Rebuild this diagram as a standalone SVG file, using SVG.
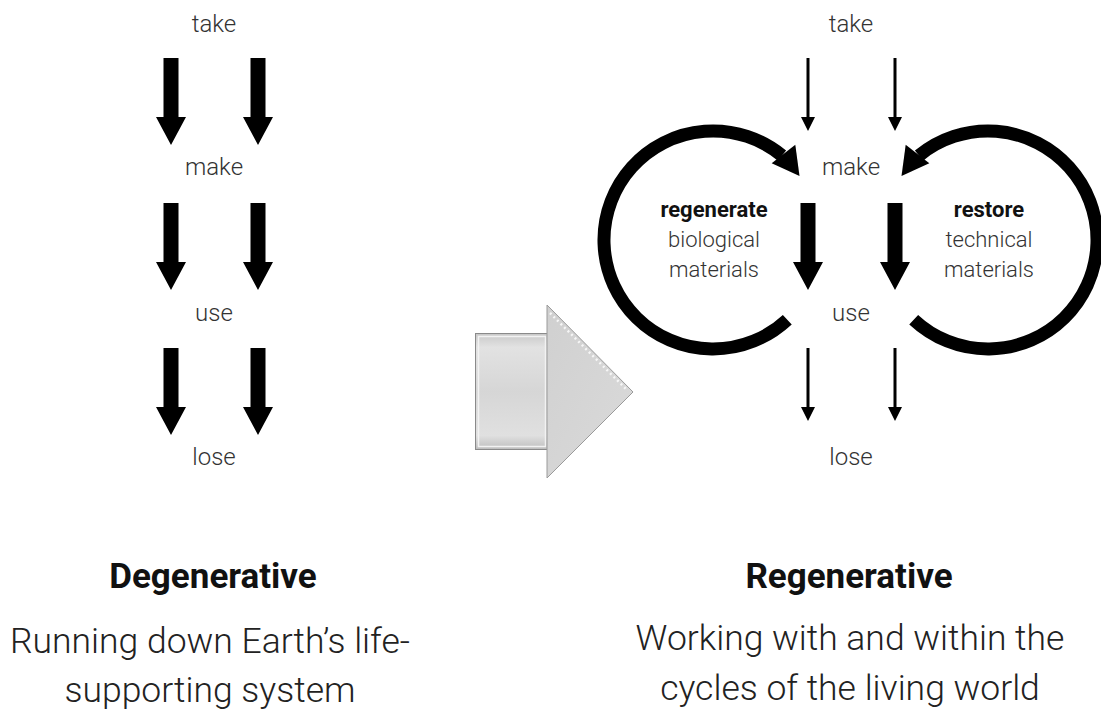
<svg xmlns="http://www.w3.org/2000/svg" width="1101" height="711" viewBox="0 0 1101 711">
<style>
.lbl{font-family:Roboto,"Liberation Sans",sans-serif;font-weight:300;font-size:22px;fill:#333;text-anchor:middle}
.step{font-family:Roboto,"Liberation Sans",sans-serif;font-weight:300;font-size:24px;fill:#333;text-anchor:middle}
.bold{font-family:Roboto,"Liberation Sans",sans-serif;font-weight:700;font-size:22px;fill:#111;text-anchor:middle}
.title{font-family:Roboto,"Liberation Sans",sans-serif;font-weight:700;font-size:35px;fill:#111;text-anchor:middle}
.sub{font-family:Roboto,"Liberation Sans",sans-serif;font-weight:300;font-size:35.5px;fill:#222;text-anchor:middle}
.ring{fill:none;stroke:#000;stroke-width:13}
</style>
<defs>
<path id="big" d="M-7.5,0 H7.5 V59 H15 L0,87 L-15,59 H-7.5 Z" fill="#000"/>
<path id="small" d="M-1.5,0 H1.5 V59 H7 L0,73 L-7,59 H-1.5 Z" fill="#000"/>
<linearGradient id="rg" x1="0" y1="0" x2="0" y2="1">
<stop offset="0" stop-color="#c8c8c8"/>
<stop offset="0.12" stop-color="#e2e2e2"/>
<stop offset="0.5" stop-color="#d6d6d6"/>
<stop offset="0.88" stop-color="#e0e0e0"/>
<stop offset="1" stop-color="#bdbdbd"/>
</linearGradient>
<linearGradient id="tg" x1="0" y1="0" x2="1" y2="1">
<stop offset="0" stop-color="#d0d0d0"/>
<stop offset="1" stop-color="#dadada"/>
</linearGradient>
</defs>
<g id="connectors">
<use href="#big" x="171" y="58"/>
<use href="#big" x="258" y="58"/>
<use href="#big" x="171" y="203"/>
<use href="#big" x="258" y="203"/>
<use href="#big" x="171" y="348"/>
<use href="#big" x="258" y="348"/>
<use href="#small" x="808" y="58"/>
<use href="#small" x="895" y="58"/>
<use href="#big" x="808" y="203"/>
<use href="#big" x="895" y="203"/>
<use href="#small" x="808" y="348"/>
<use href="#small" x="895" y="348"/>
<path class="ring" d="M787.3,319.7 A109,109 0 1 1 782,155.6"/>
<polygon points="795.3,144.8 771.7,163.2 799.5,176" fill="#000"/>
<path class="ring" d="M913.7,319.7 A109,109 0 1 0 919,155.6"/>
<polygon points="905.7,144.8 929.3,163.2 901.5,176" fill="#000"/>
</g>
<g id="transition-arrow">
<rect x="475.5" y="333.5" width="73" height="116" fill="url(#rg)" stroke="#8a8a8a"/>
<rect x="478.5" y="336.5" width="67" height="110" fill="none" stroke="#f2f2f2" stroke-width="1.5"/>
<polygon points="547,305 633,392 547,478" fill="url(#tg)" stroke="#9a9a9a"/>
<line x1="550" y1="313" x2="627" y2="390" stroke="#f6f6f6" stroke-width="2.5" stroke-dasharray="2 3"/>
</g>
<g id="left-take"><text class="step" x="214" y="32">take</text></g>
<g id="left-make"><text class="step" x="214" y="175">make</text></g>
<g id="left-use"><text class="step" x="214" y="321">use</text></g>
<g id="left-lose"><text class="step" x="214" y="465">lose</text></g>
<g id="right-take"><text class="step" x="851" y="32">take</text></g>
<g id="right-make"><text class="step" x="851" y="175">make</text></g>
<g id="right-use"><text class="step" x="851" y="321">use</text></g>
<g id="right-lose"><text class="step" x="851" y="465">lose</text></g>
<g id="regenerate">
<text class="bold" x="714" y="217">regenerate</text>
<text class="lbl" x="714" y="247">biological</text>
<text class="lbl" x="714" y="277">materials</text>
</g>
<g id="restore">
<text class="bold" x="989" y="217">restore</text>
<text class="lbl" x="989" y="247">technical</text>
<text class="lbl" x="989" y="277">materials</text>
</g>
<g id="degenerative">
<text class="title" x="213" y="588">Degenerative</text>
<text class="sub" x="210" y="653">Running down Earth’s life-</text>
<text class="sub" x="210" y="702">supporting system</text>
</g>
<g id="regenerative">
<text class="title" x="849" y="588">Regenerative</text>
<text class="sub" x="850" y="650">Working with and within the</text>
<text class="sub" x="850" y="700">cycles of the living world</text>
</g>
</svg>
